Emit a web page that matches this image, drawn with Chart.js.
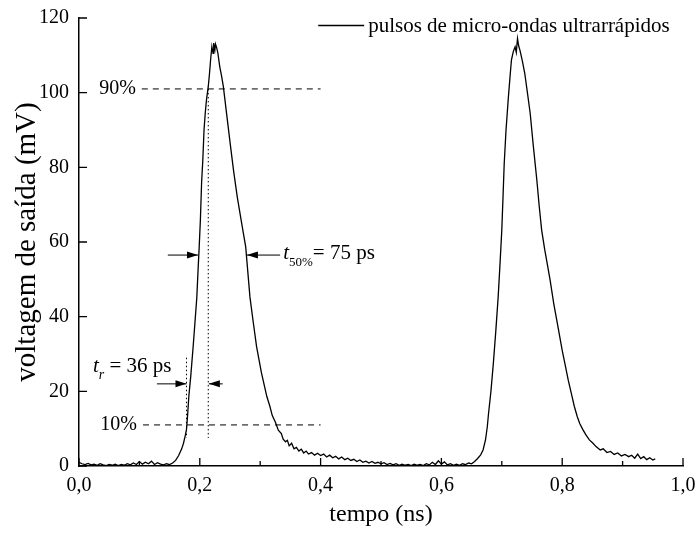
<!DOCTYPE html>
<html>
<head>
<meta charset="utf-8">
<script src="https://cdn.jsdelivr.net/npm/chart.js@4/dist/chart.umd.min.js"></script>
<style>
  html, body { margin: 0; padding: 0; background: #fff; }
  #wrap { width: 699px; height: 533px; }
</style>
</head>
<body>
<div id="wrap"><canvas id="chart1" width="699" height="533"></canvas></div>
<script>
// trace: time (ns) and output voltage (mV)
const timeNs = [
  0.000, 0.005, 0.010, 0.015, 0.020, 0.025, 0.030, 0.035, 0.040, 0.045,
  0.050, 0.055, 0.060, 0.065, 0.070, 0.075, 0.080, 0.085, 0.090, 0.095,
  0.100, 0.105, 0.110, 0.115, 0.120, 0.125, 0.130, 0.135, 0.140, 0.145,
  0.150, 0.155, 0.160, 0.165, 0.170, 0.173, 0.176, 0.178, 0.180, 0.182,
  0.185, 0.189, 0.192, 0.195, 0.197, 0.199, 0.201, 0.203, 0.205, 0.207,
  0.209, 0.211, 0.214, 0.216, 0.218, 0.220, 0.222, 0.223, 0.225, 0.226,
  0.228, 0.230, 0.233, 0.236, 0.239, 0.245, 0.251, 0.256, 0.262, 0.269,
  0.276, 0.2795, 0.283, 0.2885, 0.294, 0.302, 0.311, 0.316, 0.320, 0.325,
  0.330, 0.335, 0.338, 0.342, 0.345, 0.348,
  0.352, 0.356, 0.360, 0.364, 0.368, 0.372, 0.376, 0.380, 0.385, 0.390,
  0.395, 0.400, 0.405, 0.410, 0.415, 0.420, 0.425, 0.430, 0.435, 0.440,
  0.445, 0.450, 0.455, 0.460, 0.465, 0.470, 0.475, 0.480, 0.485, 0.490,
  0.495, 0.500, 0.505, 0.510, 0.515, 0.520, 0.525, 0.530, 0.535, 0.540,
  0.545, 0.550, 0.555, 0.560, 0.565, 0.570, 0.575, 0.580, 0.585, 0.590,
  0.595, 0.600, 0.605, 0.610, 0.615, 0.620, 0.625, 0.630, 0.635, 0.640,
  0.645, 0.650, 0.655, 0.660, 0.665, 0.669, 0.673, 0.676, 0.678, 0.682,
  0.686, 0.690, 0.694, 0.697, 0.700, 0.702, 0.704, 0.707, 0.711, 0.714,
  0.716, 0.719, 0.722, 0.724, 0.726, 0.728, 0.730, 0.734, 0.738, 0.742,
  0.747, 0.752, 0.758, 0.762, 0.766, 0.771, 0.776, 0.780, 0.786, 0.794,
  0.800, 0.805, 0.810, 0.815, 0.820, 0.825, 0.829, 0.834, 0.839, 0.845,
  0.851, 0.856, 0.863, 0.868, 0.874, 0.880, 0.886, 0.892, 0.898, 0.904,
  0.910, 0.915, 0.920, 0.925, 0.930, 0.935, 0.940, 0.945, 0.950, 0.954
];
const voltageMv = [
  1.0, 0.6, 0.4, 0.7, 0.3, 0.5, 0.2, 0.6, 0.3, 0.1,
  0.4, 0.2, 0.5, 0.1, 0.4, 0.2, 0.6, 0.3, 0.8, 0.4,
  1.2, 0.5, 1.0, 0.6, 1.3, 0.4, 0.9, 0.5, 0.3, 0.6,
  0.4, 0.8, 1.5, 2.8, 4.6, 6.1, 8.2, 9.8, 14.0, 19.0,
  24.0, 32.0, 38.5, 45.0, 52.0, 58.7, 66.0, 76.0, 82.0, 90.0,
  94.5, 98.0, 101.6, 105.0, 109.0, 112.3, 110.5, 113.3, 111.5, 113.0,
  112.0, 110.5, 107.0, 104.5, 101.6, 93.5, 85.5, 79.0, 72.1, 65.3,
  58.7, 52.0, 45.3, 38.5, 32.0, 25.0, 18.6, 16.0, 13.5, 11.8,
  9.6, 8.7, 7.2, 6.5, 6.9, 5.4,
  6.1, 4.6, 5.0, 4.0, 4.5, 3.5, 4.0, 3.2, 3.6, 2.9,
  3.4, 2.8, 3.2, 2.4, 2.9, 2.2, 2.6, 1.9, 2.4, 1.7,
  2.1, 1.5, 1.8, 1.2, 1.6, 1.0, 1.3, 0.8, 1.2, 0.7,
  1.0, 0.6, 0.9, 0.4, 0.7, 0.3, 0.6, 0.2, 0.5, 0.2,
  0.4, 0.1, 0.5, 0.2, 0.4, 0.1, 0.6, 0.3, 1.0, 0.4,
  1.4, 0.5, 1.1, 0.3, 0.6, 0.2, 0.5, 0.2, 0.6, 0.4,
  0.8, 0.6, 1.2, 2.0, 3.0, 4.3, 7.0, 10.5, 14.0, 20.0,
  27.5, 36.0, 45.3, 54.0, 63.2, 72.0, 81.0, 90.0, 99.0, 105.0,
  108.8, 111.0, 112.3, 110.8, 114.5, 112.5, 111.4, 108.5, 105.2, 100.5,
  94.5, 86.0, 76.6, 69.5, 63.2, 58.0, 53.5, 49.8, 43.5, 36.4,
  31.0, 27.0, 23.0, 19.5, 16.0, 13.2, 11.4, 9.8, 8.4, 7.0,
  6.1, 5.2, 4.3, 4.6, 3.6, 3.9, 3.1, 3.5, 2.7, 3.1,
  2.5, 2.9, 2.1, 3.2, 2.0, 2.5, 1.7, 2.2, 1.6, 1.9
];
const xTicks = [0, 0.2, 0.4, 0.6, 0.8, 1.0];
const xMinorTicks = [0.1, 0.3, 0.5, 0.7, 0.9];
const yTicks = [0, 20, 40, 60, 80, 100, 120];
const seriesName = 'pulsos de micro-ondas ultrarrápidos';

const serif = "'Liberation Serif', 'DejaVu Serif', serif";

// marks drawn on top of the trace, placed with the chart's own scales
const annotate = {
  id: 'annotate',
  afterDatasetsDraw(chart) {
    const ctx = chart.ctx;
    const xs = chart.scales.x, ys = chart.scales.y;
    const area = chart.chartArea;
    const px = v => xs.getPixelForValue(v);
    const py = v => ys.getPixelForValue(v);
    ctx.save();
    ctx.strokeStyle = '#000';
    ctx.fillStyle = '#000';

    // inward tick marks
    ctx.lineWidth = 1.3;
    ctx.beginPath();
    xTicks.forEach(v => { ctx.moveTo(px(v), area.bottom); ctx.lineTo(px(v), area.bottom - 8); });
    xMinorTicks.forEach(v => { ctx.moveTo(px(v), area.bottom); ctx.lineTo(px(v), area.bottom - 5); });
    yTicks.forEach(v => { ctx.moveTo(area.left, py(v)); ctx.lineTo(area.left + 8, py(v)); });
    ctx.stroke();

    // 90% / 10% dashed levels
    ctx.lineWidth = 1;
    ctx.setLineDash([6, 5]);
    ctx.beginPath();
    ctx.moveTo(px(0.104), py(101)); ctx.lineTo(px(0.40), py(101));
    ctx.moveTo(px(0.106), py(11)); ctx.lineTo(px(0.40), py(11));
    ctx.stroke();

    // dotted verticals
    ctx.setLineDash([1.5, 2.5]);
    ctx.beginPath();
    ctx.moveTo(px(0.214), py(101)); ctx.lineTo(px(0.214), py(7.5));
    ctx.moveTo(px(0.178), py(29)); ctx.lineTo(px(0.178), py(7.5));
    ctx.stroke();
    ctx.setLineDash([]);

    function arrow(x1, x2, y) {
      const a = px(x1), b = px(x2), yy = py(y);
      const dir = Math.sign(b - a);
      ctx.beginPath(); ctx.moveTo(a, yy); ctx.lineTo(b, yy); ctx.stroke();
      ctx.beginPath();
      ctx.moveTo(b, yy);
      ctx.lineTo(b - dir * 11, yy - 3.5);
      ctx.lineTo(b - dir * 11, yy + 3.5);
      ctx.closePath(); ctx.fill();
    }
    arrow(0.147, 0.197, 56.5);
    arrow(0.333, 0.278, 56.5);
    arrow(0.129, 0.178, 22);
    arrow(0.238, 0.215, 22);

    ctx.textBaseline = 'middle';
    ctx.font = '20px ' + serif;
    ctx.textAlign = 'right';
    ctx.fillText('90%', px(0.104) - 6, py(101));
    ctx.fillText('10%', px(0.106) - 6, py(11));

    function subLabel(x, yVal, main, sub, subFont, rest) {
      let cx = px(x);
      const base = py(yVal);
      ctx.textAlign = 'left';
      ctx.textBaseline = 'alphabetic';
      ctx.font = 'italic 21px ' + serif;
      ctx.fillText(main, cx, base);
      cx += ctx.measureText(main).width;
      ctx.font = subFont + serif;
      ctx.fillText(sub, cx, base + 7);
      cx += ctx.measureText(sub).width;
      ctx.font = '21px ' + serif;
      ctx.fillText(rest, cx, base);
    }
    subLabel(0.338, 55.4, 't', '50%', '13px ', '= 75 ps');
    subLabel(0.023, 25.3, 't', 'r', 'italic 14px ', ' = 36 ps');

    // legend
    const ly = area.top + 7.5;
    const lx = px(0.396);
    ctx.lineWidth = 1.3;
    ctx.beginPath(); ctx.moveTo(lx, ly); ctx.lineTo(lx + 46, ly); ctx.stroke();
    ctx.font = '21px ' + serif;
    ctx.textAlign = 'left';
    ctx.textBaseline = 'alphabetic';
    ctx.fillText(chart.data.datasets[0].label, lx + 50, ly + 6);
    ctx.restore();
  }
};

const ctx1 = document.getElementById('chart1').getContext('2d');
new Chart(ctx1, {
  type: 'line',
  data: {
    datasets: [{
      label: seriesName,
      data: timeNs.map((t, i) => ({ x: t, y: voltageMv[i] })),
      borderColor: '#000',
      borderWidth: 1.3,
      pointRadius: 0,
      tension: 0,
      fill: false
    }]
  },
  options: {
    responsive: false,
    animation: false,
    devicePixelRatio: 1,
    layout: { padding: { top: 18, right: 16, left: 0, bottom: 0 } },
    plugins: { legend: { display: false }, tooltip: { enabled: false } },
    scales: {
      x: {
        type: 'linear',
        min: 0,
        max: 1,
        afterBuildTicks: s => { s.ticks = xTicks.map(v => ({ value: v })); },
        afterFit: s => { s.height = 67; s.paddingLeft = 0; s.paddingRight = 0; },
        grid: { display: false, drawTicks: false, tickLength: 0 },
        border: { display: true, color: '#000', width: 1.5 },
        ticks: {
          color: '#000',
          padding: 8,
          maxRotation: 0,
          font: { family: serif, size: 20 },
          callback: v => v.toFixed(1).replace('.', ',')
        },
        title: {
          display: true,
          text: 'tempo (ns)',
          color: '#000',
          font: { family: serif, size: 24 },
          padding: { top: 0, bottom: 4 }
        }
      },
      y: {
        min: 0,
        max: 120,
        afterBuildTicks: s => { s.ticks = yTicks.map(v => ({ value: v })); },
        afterFit: s => { s.width = 79; s.paddingTop = 0; s.paddingBottom = 0; },
        grid: { display: false, drawTicks: false, tickLength: 0 },
        border: { display: true, color: '#000', width: 1.5 },
        ticks: {
          color: '#000',
          padding: 10,
          font: { family: serif, size: 20 }
        },
        title: {
          display: true,
          text: 'voltagem de saída (mV)',
          color: '#000',
          font: { family: serif, size: 29 },
          padding: { top: 10, bottom: 0 }
        }
      }
    }
  },
  plugins: [annotate]
});
</script>
</body>
</html>
